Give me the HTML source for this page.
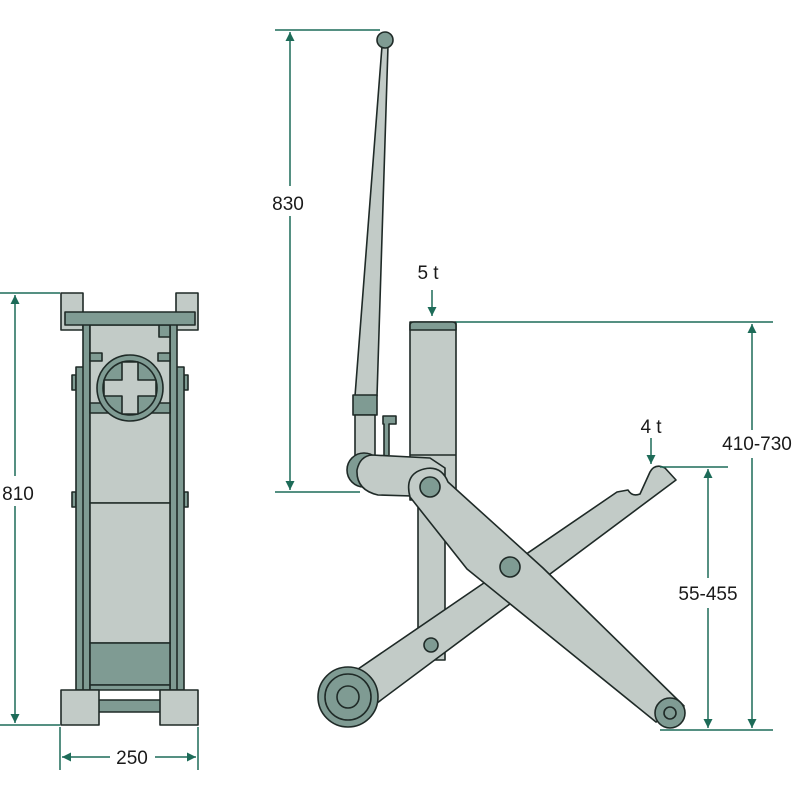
<!DOCTYPE html>
<html><head><style>html,body{margin:0;padding:0;background:#fff}svg{display:block}</style></head>
<body>
<svg width="800" height="800" viewBox="0 0 800 800" xmlns="http://www.w3.org/2000/svg" font-family="Liberation Sans, sans-serif">
<defs>
<marker id="a" viewBox="0 0 10 10" refX="10" refY="5" markerWidth="11" markerHeight="9" orient="auto-start-reverse" markerUnits="userSpaceOnUse"><path d="M0,0 L10,5 L0,10 z" fill="#1d6b58"/></marker>
</defs>
<g stroke="#1f2a27" stroke-width="1.6" stroke-linejoin="round">
<!-- LEFT VIEW -->
<rect x="61" y="293" width="22" height="37" fill="#c2cbc7"/>
<rect x="176" y="293" width="22" height="37" fill="#c2cbc7"/>
<rect x="72" y="375" width="4" height="15" fill="#7f9b93"/>
<rect x="184" y="375" width="4" height="15" fill="#7f9b93"/>
<rect x="72" y="492" width="4" height="15" fill="#7f9b93"/>
<rect x="184" y="492" width="4" height="15" fill="#7f9b93"/>
<rect x="76" y="367" width="8" height="323" fill="#7f9b93"/>
<rect x="176" y="367" width="8" height="323" fill="#7f9b93"/>
<rect x="83" y="322" width="7" height="368" fill="#7f9b93"/>
<rect x="170" y="322" width="7" height="368" fill="#7f9b93"/>
<rect x="90" y="325" width="80" height="178" fill="#c2cbc7"/>
<rect x="90" y="503" width="80" height="140" fill="#c2cbc7"/>
<rect x="90" y="643" width="80" height="42" fill="#7f9b93"/>
<rect x="90" y="685" width="80" height="5" fill="#7f9b93"/>
<rect x="90" y="403" width="80" height="10" fill="#7f9b93"/>
<rect x="90" y="353" width="12" height="8" fill="#7f9b93"/>
<rect x="158" y="353" width="12" height="8" fill="#7f9b93"/>
<rect x="159" y="325" width="11" height="12" fill="#7f9b93"/>
<rect x="65" y="312" width="130" height="13" fill="#7f9b93"/>
<circle cx="130" cy="388" r="33" fill="#7f9b93"/>
<circle cx="130" cy="388" r="27" fill="#7f9b93"/>
<path d="M122,362 h16 v18 h18 v16 h-18 v18 h-16 v-18 h-18 v-16 h18 z" fill="#c2cbc7"/>
<rect x="96" y="700" width="68" height="12" fill="#7f9b93"/>
<rect x="61" y="690" width="38" height="35" fill="#c2cbc7"/>
<rect x="160" y="690" width="38" height="35" fill="#c2cbc7"/>

<!-- SIDE VIEW -->
<rect x="418" y="495" width="27" height="165" fill="#c2cbc7"/>
<!-- handle -->
<path d="M382,46 L388,46 L377,396 L355,396 Z" fill="#c2cbc7"/>
<circle cx="385" cy="40" r="8" fill="#7f9b93"/>
<rect x="353" y="395" width="24" height="20" fill="#7f9b93"/>
<rect x="355" y="415" width="20" height="45" fill="#c2cbc7"/>
<path d="M384,455 V424 h-1 v-8 h13 v8 h-7 V455" fill="#7f9b93"/>
<!-- column -->
<rect x="410" y="322" width="46" height="178" fill="#c2cbc7"/>
<path d="M410,330 V325 q0,-3 4,-3 h38 q4,0 4,3 V330 Z" fill="#7f9b93"/>
<line x1="410" y1="455" x2="456" y2="455"/>
<!-- bracket -->
<circle cx="364" cy="470" r="17" fill="#7f9b93"/>
<path d="M372,455 L430,458 L445,468 L445,497 L378,495 Q356,490 357,470 Q360,456 372,455 Z" fill="#c2cbc7"/>
<!-- arm 2 -->
<path d="M342,680 L617,492 L628,490 Q632,497 640,494 L650,472 Q655,463 665,468 L676,480 L365,712 Z" fill="#c2cbc7"/>
<!-- lower wheel -->
<circle cx="348" cy="697" r="30" fill="#7f9b93"/>
<circle cx="348" cy="697" r="23" fill="#7f9b93"/>
<circle cx="348" cy="697" r="11" fill="#7f9b93"/>
<circle cx="431" cy="645" r="7" fill="#7f9b93"/>
<!-- arm 1 -->
<path d="M410,497 Q404,474 424,469 Q441,465 448,482 L543,568 L684,706 L656,722 L467,569 Z" fill="#c2cbc7"/>
<circle cx="430" cy="487" r="10" fill="#7f9b93"/>
<circle cx="510" cy="567" r="10" fill="#7f9b93"/>
<circle cx="670" cy="713" r="15" fill="#7f9b93"/>
<circle cx="670" cy="713" r="6" fill="#7f9b93"/>
</g>

<!-- DIMENSIONS -->
<g stroke="#1d6b58" stroke-width="1.5" fill="none">
<line x1="0" y1="293" x2="60" y2="293"/>
<line x1="0" y1="725" x2="60" y2="725"/>
<line x1="15" y1="295" x2="15" y2="476" marker-start="url(#a)"/>
<line x1="15" y1="506" x2="15" y2="723" marker-end="url(#a)"/>
<line x1="60" y1="727" x2="60" y2="770"/>
<line x1="198" y1="727" x2="198" y2="770"/>
<line x1="62" y1="757" x2="110" y2="757" marker-start="url(#a)"/>
<line x1="155" y1="757" x2="196" y2="757" marker-end="url(#a)"/>
<line x1="275" y1="30" x2="380" y2="30"/>
<line x1="275" y1="492" x2="360" y2="492"/>
<line x1="290" y1="32" x2="290" y2="186" marker-start="url(#a)"/>
<line x1="290" y1="216" x2="290" y2="490" marker-end="url(#a)"/>
<line x1="432" y1="290" x2="432" y2="316" marker-end="url(#a)"/>
<line x1="456" y1="322" x2="773" y2="322"/>
<line x1="660" y1="730" x2="773" y2="730"/>
<line x1="752" y1="324" x2="752" y2="430" marker-start="url(#a)"/>
<line x1="752" y1="458" x2="752" y2="728" marker-end="url(#a)"/>
<line x1="651" y1="438" x2="651" y2="464" marker-end="url(#a)"/>
<line x1="660" y1="467" x2="728" y2="467"/>
<line x1="708" y1="469" x2="708" y2="578" marker-start="url(#a)"/>
<line x1="708" y1="608" x2="708" y2="728" marker-end="url(#a)"/>
</g>
<g fill="#1a1a1a" font-size="19" text-anchor="middle">
<text x="18" y="500">810</text>
<text x="132" y="764">250</text>
<text x="288" y="210">830</text>
<text x="428" y="279">5 t</text>
<text x="651" y="433">4 t</text>
<text x="757" y="450">410-730</text>
<text x="708" y="600">55-455</text>
</g>
</svg>
</body></html>
